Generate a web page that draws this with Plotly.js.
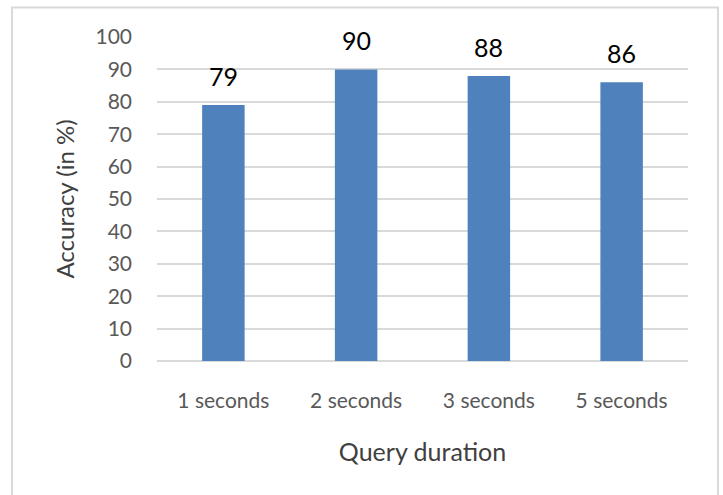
<!DOCTYPE html>
<html>
<head>
<meta charset="utf-8">
<script src="https://cdn.plot.ly/plotly-3.0.1.min.js"></script>
<style>
  html, body { margin: 0; padding: 0; background: #ffffff; }
  #chart { width: 723px; height: 495px; }
</style>
</head>
<body>
<div id="chart"></div>
<script>
// Accuracy per query duration
const categories = ['1 seconds', '2 seconds', '3 seconds', '5 seconds'];
const accuracy = [79, 90, 88, 86];
const yTicks = [0, 10, 20, 30, 40, 50, 60, 70, 80, 90, 100];

const font = 'Lato, "Open Sans", sans-serif';

const trace = {
  type: 'bar',
  x: categories,
  y: accuracy,
  width: 0.32,
  marker: { color: '#4F81BD' },
  hoverinfo: 'x+y'
};

// value labels floating above each bar
const valueLabels = categories.map((c, i) => ({
  x: c,
  y: accuracy[i],
  xref: 'x',
  yref: 'y',
  text: String(accuracy[i]),
  showarrow: false,
  yanchor: 'bottom',
  yshift: 12,
  font: { family: font, size: 25, color: '#000000' }
}));

const layout = {
  width: 723,
  height: 495,
  margin: { l: 157, r: 35, t: 37, b: 134 },
  paper_bgcolor: '#ffffff',
  plot_bgcolor: '#ffffff',
  showlegend: false,
  xaxis: {
    type: 'category',
    showgrid: false,
    zeroline: false,
    showline: false,
    ticks: '',
    ticklabelstandoff: 25,
    tickfont: { family: font, size: 21, color: '#595959' },
    title: {
      text: 'Query duration',
      font: { family: font, size: 25, color: '#404040' },
      standoff: 32
    }
  },
  yaxis: {
    range: [0, 100],
    tickvals: yTicks,
    ticktext: yTicks.map(String),
    showgrid: true,
    gridcolor: '#d9d9d9',
    gridwidth: 2,
    zeroline: true,
    zerolinecolor: '#d9d9d9',
    zerolinewidth: 2,
    showline: false,
    ticks: '',
    ticklabelstandoff: 24,
    tickfont: { family: font, size: 21, color: '#595959' },
    title: {
      text: 'Accuracy (in %)',
      font: { family: font, size: 24, color: '#404040' },
      standoff: 14
    }
  },
  annotations: valueLabels,
  shapes: [{
    type: 'rect',
    xref: 'paper', yref: 'paper',
    x0: -0.273, x1: 1.0565,
    y0: -0.45, y1: 1.091,
    line: { color: '#d9d9d9', width: 2 },
    fillcolor: 'rgba(0,0,0,0)',
    layer: 'below'
  }]
};

Plotly.newPlot('chart', [trace], layout, { displayModeBar: false, staticPlot: true });
</script>
</body>
</html>
